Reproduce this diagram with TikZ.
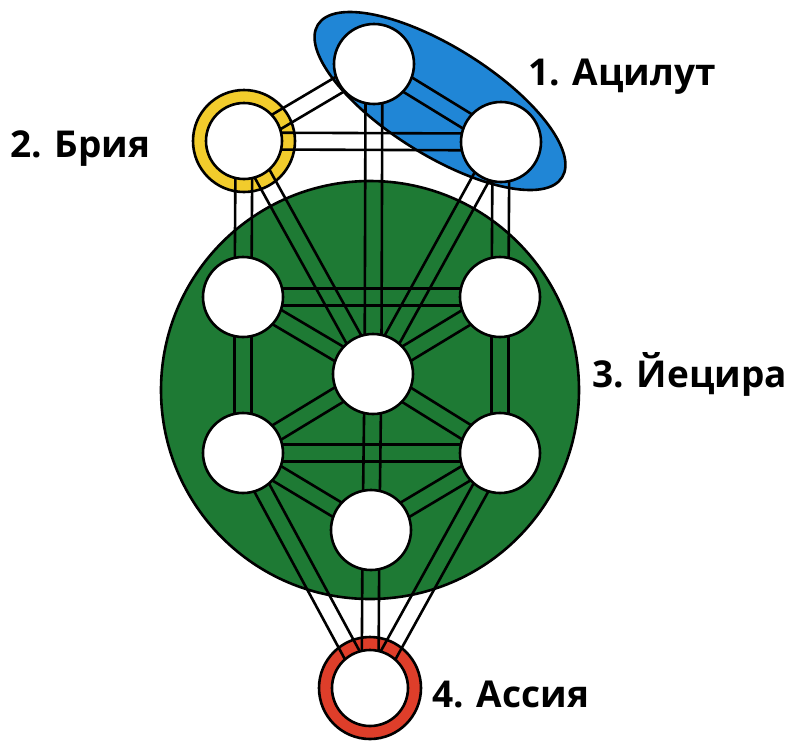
\documentclass[tikz,border=0pt]{standalone}
\usepackage{fontspec}
\setmainfont{Open Sans}
\usetikzlibrary{calc}
\definecolor{yetzgreen}{RGB}{30,122,52}
\definecolor{atzblue}{RGB}{32,134,214}
\definecolor{briyellow}{RGB}{242,204,44}
\definecolor{assred}{RGB}{222,62,42}
\pgfdeclarelayer{worlds}
\pgfdeclarelayer{conduits}
\pgfsetlayers{worlds,conduits,main}
% a path of the tree: two parallel lines between two sefirot
\newcommand{\conduit}[2]{%
  \draw ($(#1)!4.2pt!90:(#2)$) -- ($(#2)!4.2pt!-90:(#1)$);
  \draw ($(#1)!4.2pt!-90:(#2)$) -- ($(#2)!4.2pt!90:(#1)$);}

\begin{document}
\begin{tikzpicture}[x=0.5pt, y=-0.5pt,
  sefira/.style={circle, draw, line width=1.3pt, fill=white,
                 minimum size=40pt, inner sep=0pt},
  ring/.style={draw, line width=1.3pt},
  world/.style={font=\fontsize{18.5}{22}\selectfont\bfseries,
                anchor=base west, inner sep=0pt}]
\useasboundingbox (0,0) rectangle (798,740);
% sefirot
\node[sefira] (keter)    at (374,64)  {};
\node[sefira, minimum size=38pt] (binah) at (244,141) {};
\node[sefira] (chokhmah) at (501,142) {};
\node[sefira] (gevurah)  at (243,297) {};
\node[sefira] (chesed)   at (500,297) {};
\node[sefira] (tiferet)  at (373,374) {};
\node[sefira] (hod)      at (243,453) {};
\node[sefira] (netzach)  at (500,453) {};
\node[sefira] (yesod)    at (371,530) {};
\node[sefira, minimum size=38pt] (malkhut) at (370,688) {};
% worlds
\begin{pgfonlayer}{worlds}
\draw[ring, fill=yetzgreen] (370,390) circle[radius=209];
\draw[ring, fill=atzblue, rotate around={-32:(440,101)}]
  (440,101) ellipse[x radius=144, y radius=54];
\draw[ring, fill=briyellow] (binah) circle[radius=51];
\draw[ring, fill=assred] (malkhut) circle[radius=51];
\end{pgfonlayer}
% paths
\begin{pgfonlayer}{conduits}
\begin{scope}[line width=1.3pt]
\conduit{keter}{binah} \conduit{keter}{chokhmah} \conduit{keter}{tiferet}
\conduit{binah}{chokhmah} \conduit{binah}{gevurah} \conduit{binah}{tiferet}
\conduit{chokhmah}{chesed} \conduit{chokhmah}{tiferet}
\conduit{gevurah}{chesed} \conduit{gevurah}{tiferet} \conduit{chesed}{tiferet}
\conduit{gevurah}{hod} \conduit{chesed}{netzach}
\conduit{tiferet}{hod} \conduit{tiferet}{netzach} \conduit{tiferet}{yesod}
\conduit{hod}{netzach} \conduit{hod}{yesod} \conduit{netzach}{yesod}
\conduit{hod}{malkhut} \conduit{netzach}{malkhut} \conduit{yesod}{malkhut}
\end{scope}
\end{pgfonlayer}
% labels
\node[world] (atziluth) at (528,85)  {1. Ацилут};
\node[world] (briah)    at (10,157)  {2. Брия};
\node[world] (yetzirah) at (592,387) {3. Йецира};
\node[world] (assiah)   at (432,707) {4. Ассия};
\end{tikzpicture}
\end{document}
